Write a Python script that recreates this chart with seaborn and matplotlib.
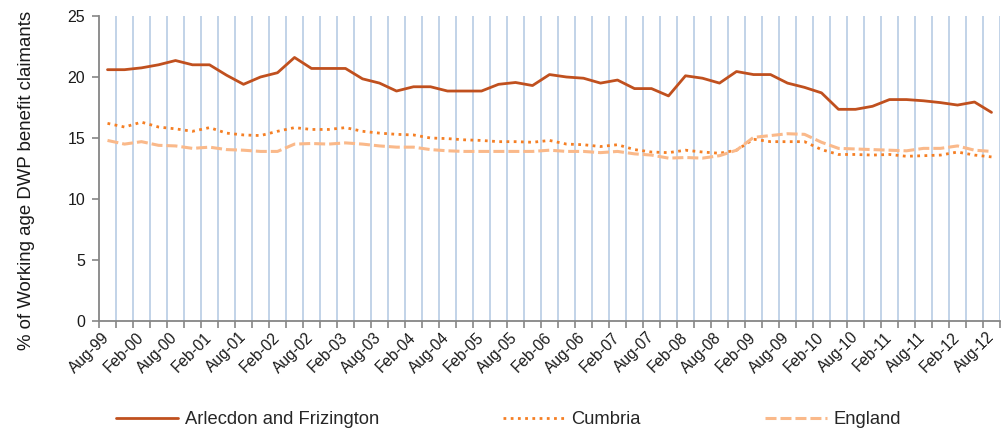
import numpy as np
import pandas as pd
import matplotlib
matplotlib.use("Agg")
import matplotlib.pyplot as plt
import seaborn as sns

# ---------------- data ----------------
periods = []
for y in range(1999, 2013):
    for m in ["Feb", "May", "Aug", "Nov"]:
        periods.append(f"{m}-{str(y)[-2:]}")
start = periods.index("Aug-99")
end = periods.index("Aug-12")
periods = periods[start:end + 1]  # 53 quarterly periods

arlecdon = [20.6, 20.6, 20.75, 21.0, 21.35, 21.0, 21.0, 20.15, 19.4, 20.0,
            20.35, 21.6, 20.7, 20.7, 20.7, 19.85, 19.5, 18.85, 19.2, 19.2,
            18.85, 18.85, 18.85, 19.4, 19.55, 19.3, 20.2, 20.0, 19.9, 19.5,
            19.75, 19.05, 19.05, 18.45, 20.1, 19.9, 19.5, 20.45, 20.2, 20.2,
            19.5, 19.15, 18.7, 17.35, 17.35, 17.6, 18.15, 18.15, 18.05, 17.9,
            17.7, 17.95, 17.1]
cumbria = [16.2, 15.9, 16.3, 15.9, 15.75, 15.55, 15.85, 15.4, 15.25, 15.2,
           15.55, 15.85, 15.7, 15.7, 15.85, 15.55, 15.4, 15.3, 15.25, 15.0,
           14.95, 14.85, 14.8, 14.7, 14.7, 14.65, 14.8, 14.5, 14.45, 14.3,
           14.45, 14.05, 13.85, 13.8, 14.0, 13.85, 13.75, 14.0, 14.9, 14.7,
           14.7, 14.7, 14.05, 13.65, 13.65, 13.6, 13.65, 13.5, 13.55, 13.6,
           13.85, 13.6, 13.45]
england = [14.8, 14.5, 14.7, 14.4, 14.35, 14.15, 14.25, 14.05, 14.0, 13.9,
           13.9, 14.5, 14.55, 14.5, 14.6, 14.5, 14.35, 14.25, 14.25, 14.05,
           13.95, 13.9, 13.9, 13.9, 13.9, 13.9, 14.0, 13.9, 13.9, 13.8,
           13.9, 13.7, 13.6, 13.35, 13.4, 13.35, 13.55, 14.0, 15.05, 15.2,
           15.35, 15.3, 14.65, 14.15, 14.1, 14.05, 14.0, 13.95, 14.15, 14.15,
           14.35, 14.0, 13.9]

series_names = ["Arlecdon and Frizington", "Cumbria", "England"]
colors = ["#C0501E", "#F57F24", "#FAB98A"]
yticks = [0, 5, 10, 15, 20, 25]
ylabel = "% of Working age DWP benefit claimants"

# ---------------- plot ----------------
sns.set_theme(style="white")
plt.rcParams["font.family"] = ["Liberation Sans", "DejaVu Sans"]

fig = plt.figure(figsize=(10.02, 4.32), dpi=100)
W, H = 1002, 432
ax = fig.add_axes([99 / W, 1 - 321 / H, (1000 - 99) / W, (321 - 16) / H])

idx = np.arange(len(periods))
df = pd.DataFrame({"idx": idx, "Arlecdon": arlecdon, "Cumbria": cumbria, "England": england})

sns.lineplot(data=df, x="idx", y="Arlecdon", ax=ax, color=colors[0],
             linewidth=2.0, legend=False)
sns.lineplot(data=df, x="idx", y="Cumbria", ax=ax, color=colors[1],
             linewidth=2.0, linestyle=(0, (1.0, 1.6)), legend=False,
             dash_capstyle="butt")
sns.lineplot(data=df, x="idx", y="England", ax=ax, color=colors[2],
             linewidth=2.2, linestyle=(0, (3.6, 1.3)), legend=False,
             dash_capstyle="butt")

ax.set_xlim(-0.5, len(periods) - 0.5)
ax.set_ylim(0, 25)

# category boundaries as major ticks + vertical grid
bounds = np.arange(len(periods) + 1) - 0.5
ax.set_xticks(bounds)
ax.set_xticklabels([""] * len(bounds))
ax.set_xticks(idx[::2], minor=True)
ax.set_xticklabels(periods[::2], minor=True, rotation=45, ha="right",
                   va="center", rotation_mode="anchor", fontsize=11.2,
                   color="#1a1a1a")
ax.tick_params(axis="x", which="minor", length=0, pad=10)
ax.tick_params(axis="x", which="major", length=5, width=1.2, color="#868686",
               direction="out", bottom=True)
ax.xaxis.grid(True, which="major", color="#B8CCE4", linewidth=1.2)
ax.yaxis.grid(False)
ax.get_xgridlines()[0].set_visible(False)

ax.set_yticks(yticks)
ax.set_yticklabels([str(t) for t in yticks], fontsize=11.5, color="#1a1a1a")
ax.tick_params(axis="y", length=5, width=1.2, color="#868686",
               direction="out", left=True, pad=5)

for s in ["top", "right"]:
    ax.spines[s].set_visible(False)
for s in ["left", "bottom"]:
    ax.spines[s].set_color("#868686")
    ax.spines[s].set_linewidth(1.3)

ax.set_xlabel("")
ax.set_ylabel(ylabel, fontsize=13.4, color="#1a1a1a")
ax.yaxis.set_label_coords(-64 / 901, (321 - 180) / 305)

handles = ax.get_lines()[:3]
fig.legend(handles, series_names, loc="center left",
           bbox_to_anchor=(116 / W, 1 - 420 / H), ncol=3, frameon=False,
           fontsize=13.2, handlelength=3.4, handletextpad=0.35,
           columnspacing=6.75, borderpad=0, borderaxespad=0)

fig.savefig("out.png", dpi=100)
